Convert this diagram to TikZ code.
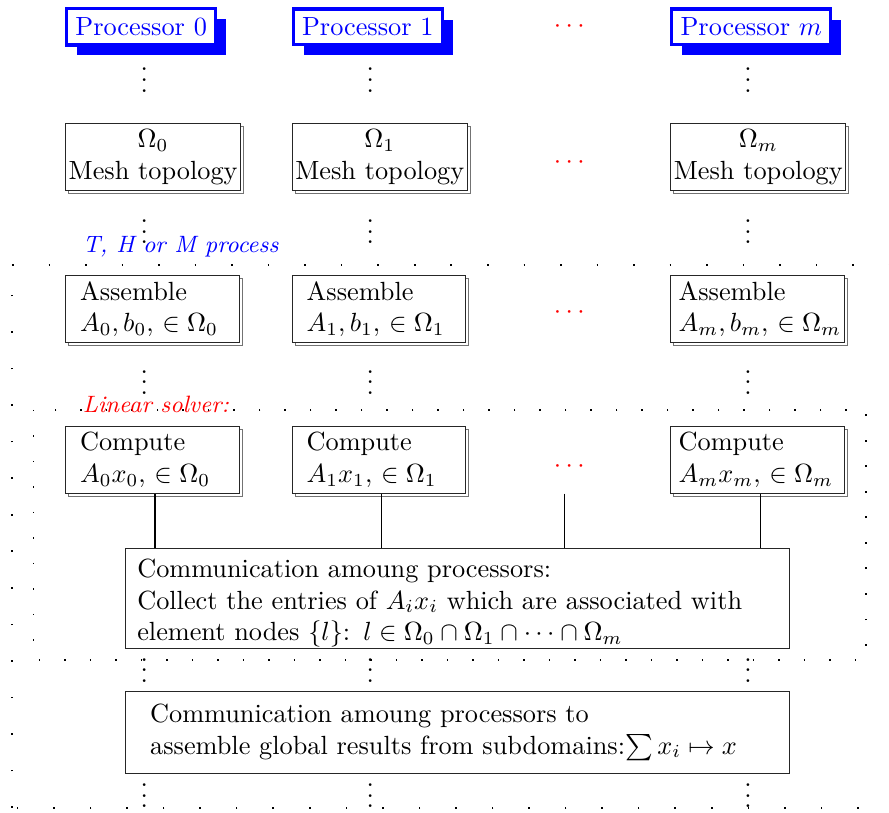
\documentclass[tikz,border=0pt]{standalone}
\usepackage{amsmath,amssymb}
\usepackage{xcolor}
\usepackage{tikz}
\usetikzlibrary{shadows}
\tikzset{
  proc/.style={draw=blue, line width=1.2pt, fill=white, text=blue, anchor=west,
    drop shadow={fill=blue, opacity=1, shadow xshift=4pt, shadow yshift=-4pt}},
  sbox/.style={draw=black!85, fill=white, anchor=west, inner ysep=2.3pt,
    copy shadow={draw=black!55, fill=white, shadow xshift=1.2pt, shadow yshift=-1.2pt}},
  mesh/.style={sbox, align=center, inner xsep=0.5pt, minimum width=2.34cm},
  work/.style={sbox, align=left, inner xsep=5.5pt, text width=55pt},
  wide/.style={work, inner xsep=3pt, text width=60pt},
  comm/.style={draw=black!85, fill=white, anchor=west, align=left},
  vd/.style={anchor=base, inner sep=0pt},
  rd/.style={text=red},
  lab/.style={anchor=west, inner sep=0pt, font=\small\itshape},
  farframe/.style={line width=0.6pt, dash pattern=on 0.6pt off 13.3pt},
  nearframe/.style={line width=0.6pt, dash pattern=on 0.6pt off 9.1pt},
}

\begin{document}
\begin{tikzpicture}
  \useasboundingbox (0,0) rectangle (11.885,-10.856);

  % dotted frames round the parallel part
  \draw[farframe] (0.16,-3.54) -- (11.885,-3.54);
  \draw[farframe] (0.16,-10.80) -- (0.16,-3.54);
  \draw[farframe] (11.48,-10.80) -- (0.16,-10.80);
  \draw[nearframe] (0.45,-5.48) rectangle (11.58,-8.82);

  % processors
  \node[proc] (p0) at (0.87,-0.36) {Processor 0};
  \node[proc] (p1) at (3.90,-0.36) {Processor 1};
  \node[proc] (pm) at (8.96,-0.36) {Processor $m$};
  \node[rd] (r0) at (7.64,-0.36) {$\cdots$};

  \node[vd] (v00) at (1.93,-1.23) {$\vdots$};
  \node[vd] (v01) at (4.95,-1.23) {$\vdots$};
  \node[vd] (v0m) at (10.00,-1.23) {$\vdots$};

  % subdomains
  \node[mesh] (m0) at (0.87,-2.10) {$\Omega_0$\\Mesh topology};
  \node[mesh] (m1) at (3.90,-2.10) {$\Omega_1$\\Mesh topology};
  \node[mesh] (mm) at (8.96,-2.10) {$\Omega_m$\\Mesh topology};
  \node[rd] (r1) at (7.64,-2.18) {$\cdots$};

  \node[vd] (v10) at (1.93,-3.26) {$\vdots$};
  \node[vd] (v11) at (4.95,-3.26) {$\vdots$};
  \node[vd] (v1m) at (10.00,-3.26) {$\vdots$};
  \node[lab, text=blue] (thm) at (1.10,-3.30) {T, H or M process};

  % assembly
  \node[work] (a0) at (0.87,-4.13) {Assemble\\\mbox{$A_0, b_0,$ $\in \Omega_0$}};
  \node[work] (a1) at (3.90,-4.13) {Assemble\\\mbox{$A_1, b_1,$ $\in \Omega_1$}};
  \node[wide] (am) at (8.96,-4.13) {Assemble\\\mbox{$A_m, b_m,$ $\in \Omega_m$}};
  \node[rd] (r2) at (7.64,-4.18) {$\cdots$};

  \node[vd] (v20) at (1.93,-5.27) {$\vdots$};
  \node[vd] (v21) at (4.95,-5.27) {$\vdots$};
  \node[vd] (v2m) at (10.00,-5.27) {$\vdots$};
  \node[lab, text=red] (ls) at (1.10,-5.41) {Linear solver:};

  % local products
  \node[work] (k0) at (0.87,-6.15) {Compute\\\mbox{$A_0x_0,$ $\in \Omega_0$}};
  \node[work] (k1) at (3.90,-6.15) {Compute\\\mbox{$A_1x_1,$ $\in \Omega_1$}};
  \node[wide] (km) at (8.96,-6.15) {Compute\\\mbox{$A_mx_m,$ $\in \Omega_m$}};
  \node[rd] (r3) at (7.64,-6.24) {$\cdots$};
  \coordinate (kmid) at (7.55,-6.60);

  \node[comm, inner xsep=4.5pt, inner ysep=0.5pt, text height=10.6pt, text width=243.5pt] (c1) at (1.67,-8.00)
    {Communication amoung processors:\\
     Collect the entries of $A_ix_i$ which are associated with\\
     element nodes $\{l\}$: $l\in\Omega_0\cap\Omega_1\cap\cdots\cap\Omega_m$};

  \draw ([xshift=1pt]k0.south) -- ([xshift=1pt]k0.south |- c1.north);
  \draw ([xshift=1pt]k1.south) -- ([xshift=1pt]k1.south |- c1.north);
  \draw (kmid) -- (kmid |- c1.north);
  \draw ([xshift=1pt]km.south) -- ([xshift=1pt]km.south |- c1.north);

  \node[vd] (v30) at (1.93,-9.12) {$\vdots$};
  \node[vd] (v31) at (4.95,-9.12) {$\vdots$};
  \node[vd] (v3m) at (10.00,-9.12) {$\vdots$};

  \node[comm, inner xsep=9.4pt, inner ysep=4.8pt, text width=233.7pt] (c2) at (1.67,-9.79)
    {Communication amoung processors to\\
     assemble global results from subdomains:$\sum x_i \mapsto x$};

  \node[vd] (v40) at (1.93,-10.80) {$\vdots$};
  \node[vd] (v41) at (4.95,-10.80) {$\vdots$};
  \node[vd] (v4m) at (10.00,-10.80) {$\vdots$};
\end{tikzpicture}
\end{document}
